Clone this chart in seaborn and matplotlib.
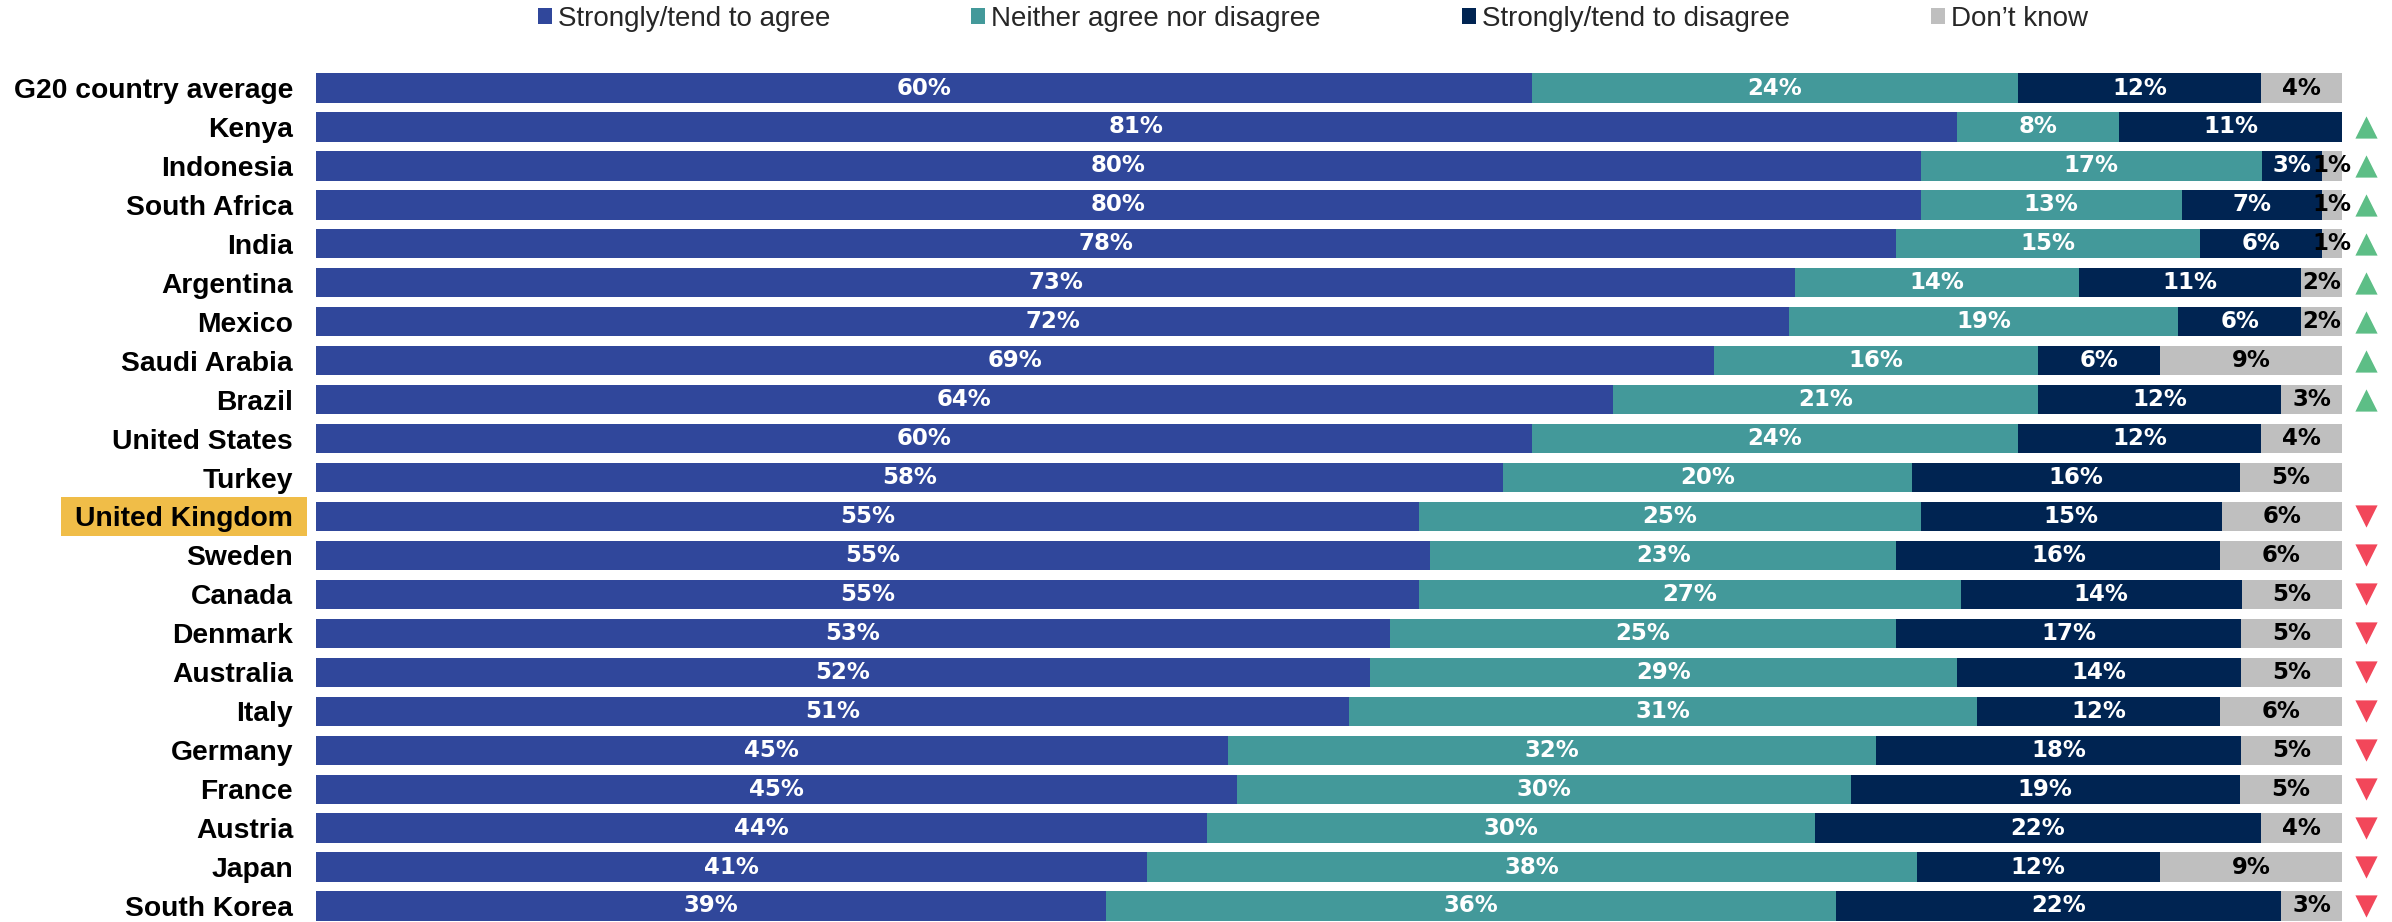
import numpy as np
import pandas as pd
import matplotlib
matplotlib.use('Agg')
import matplotlib.pyplot as plt
import matplotlib.transforms as mtransforms
from matplotlib.patches import Patch, Rectangle
import seaborn as sns

countries = ['G20 country average', 'Kenya', 'Indonesia', 'South Africa', 'India',
             'Argentina', 'Mexico', 'Saudi Arabia', 'Brazil', 'United States',
             'Turkey', 'United Kingdom', 'Sweden', 'Canada', 'Denmark',
             'Australia', 'Italy', 'Germany', 'France', 'Austria', 'Japan',
             'South Korea']
agree = [60, 81, 80, 80, 78, 73, 72, 69, 64, 60, 58, 55, 55, 55, 53, 52, 51, 45, 45, 44, 41, 39]
neither = [24, 8, 17, 13, 15, 14, 19, 16, 21, 24, 20, 25, 23, 27, 25, 29, 31, 32, 30, 30, 38, 36]
disagree = [12, 11, 3, 7, 6, 11, 6, 6, 12, 12, 16, 15, 16, 14, 17, 14, 12, 18, 19, 22, 12, 22]
dont_know = [4, 0, 1, 1, 1, 2, 2, 9, 3, 4, 5, 6, 6, 5, 5, 5, 6, 5, 5, 4, 9, 3]
# change since previous wave: 1 = up, -1 = down, 0 = none
trend = [0, 1, 1, 1, 1, 1, 1, 1, 1, 0, 0, -1, -1, -1, -1, -1, -1, -1, -1, -1, -1, -1]

series_names = ['Strongly/tend to agree', 'Neither agree nor disagree',
                'Strongly/tend to disagree', 'Don\u2019t know']
colors = ['#30479B', '#43999A', '#002452', '#BFBFBF']
label_colors = ['white', 'white', 'white', 'black']
highlight = 'United Kingdom'

sns.set_theme(style='white')
plt.rcParams['font.family'] = ['Liberation Sans', 'DejaVu Sans']

df = pd.DataFrame({'country': countries, 'agree': agree, 'neither': neither,
                   'disagree': disagree, 'dont_know': dont_know})
cols = ['agree', 'neither', 'disagree', 'dont_know']
# scale each row to a full bar (rounded values don't always add to 100)
shares = df[cols].div(df[cols].sum(axis=1), axis=0) * 100
cum = shares.cumsum(axis=1)

W, H = 2392, 922
fig = plt.figure(figsize=(W / 100, H / 100), dpi=100)
row_px = 38.95
n = len(countries)
ylim_bottom = n - 1 + 16 / row_px
ax_h = (ylim_bottom + 0.5) * row_px / H
ax = fig.add_axes([316 / W, 0, 2026 / W, ax_h])

# stacked bars: draw cumulative totals from the widest down
for k in range(len(cols) - 1, -1, -1):
    sns.barplot(x=cum[cols[k]].values, y=countries, order=countries, orient='h',
                color=colors[k], saturation=1, width=0.75, linewidth=0, ax=ax)

for i in range(n):
    for k, c in enumerate(cols):
        v = df.loc[i, c]
        if v == 0:
            continue
        left = cum.loc[i, c] - shares.loc[i, c]
        ax.text(left + shares.loc[i, c] / 2, i, f'{v}%', ha='center', va='center',
                color=label_colors[k], fontsize=16.5, fontweight='bold',
                family='DejaVu Sans')

ax.set_xlim(0, 100)
ax.set_ylim(ylim_bottom, -0.5)
ax.set_xlabel('')
ax.set_ylabel('')
ax.set_xticks([])
for s in ax.spines.values():
    s.set_visible(False)
ax.tick_params(axis='y', length=0, pad=16.5)
for tl in ax.get_yticklabels():
    tl.set_fontsize(20.3)
    tl.set_fontweight('bold')
    tl.set_color('black')

# highlight box behind the UK label
blend = mtransforms.blended_transform_factory(fig.transFigure, ax.transData)
uk = countries.index(highlight)
ax.add_patch(Rectangle((61 / W, uk - 0.49), 246 / W, 0.98, transform=blend,
                       facecolor='#F0BD48', edgecolor='none', clip_on=False, zorder=0))

# trend arrows
arrow_x = 101.2
up = [i for i, t in enumerate(trend) if t > 0]
down = [i for i, t in enumerate(trend) if t < 0]
ax.scatter([arrow_x] * len(up), up, marker='^', s=16 ** 2, color='#5DBE86',
           linewidths=0, clip_on=False)
ax.scatter([arrow_x] * len(down), down, marker='v', s=16 ** 2, color='#F2475A',
           linewidths=0, clip_on=False)

handles = [Patch(facecolor=c, edgecolor='none') for c in colors]
fig.legend(handles, series_names, loc='center', ncol=4, frameon=False,
           bbox_to_anchor=(1313 / W, 1 - 19 / H), fontsize=20,
           handlelength=0.5, handleheight=0.5, handletextpad=0.22,
           columnspacing=5.08, borderaxespad=0, borderpad=0)

fig.savefig('out.png', dpi=100)
